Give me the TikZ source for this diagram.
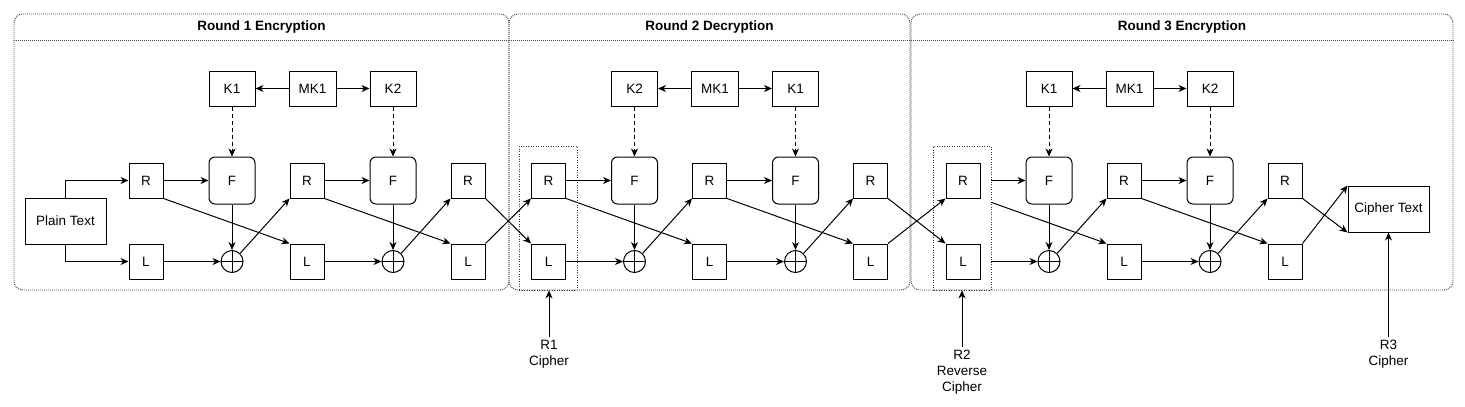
\documentclass[tikz,border=0pt]{standalone}
\usepackage{fontspec}
\setmainfont{Liberation Sans}
\usetikzlibrary{arrows.meta,calc}
\newcommand\feistelround[4]{%
\begin{scope}[xshift=#2pt]
\node[kbox] (#1K1) at (232,88.5) {#3};
\node[kbox, minimum width=47pt] (#1MK) at (312.5,88.5) {MK1};
\node[kbox] (#1K2) at (393,88.5) {#4};
\node[fbox] (#1F1) at (232,180.5) {F};
\node[fbox] (#1F2) at (393,180.5) {F};
\node[hbox] (#1Ra) at (146,180.5) {R};
\node[hbox] (#1La) at (146,261.5) {L};
\node[hbox] (#1Rb) at (307,180.5) {R};
\node[hbox] (#1Lb) at (307,261.5) {L};
\node[hbox] (#1Rc) at (468,180.5) {R};
\node[hbox] (#1Lc) at (468,261.5) {L};
\node[xor] (#1X1) at (232,261.5) {};
\node[xor] (#1X2) at (393,261.5) {};
\end{scope}
\draw[arr] (#1MK) -- (#1K1);
\draw[arr] (#1MK) -- (#1K2);
\draw[darr] (#1K1) -- (#1F1);
\draw[darr] (#1K2) -- (#1F2);
\draw[arr] (#1F1) -- (#1X1);
\draw[arr] (#1F2) -- (#1X2);
\draw[arr] (#1X1.north east) -- (#1Rb.south west);
\draw[arr] (#1Rb) -- (#1F2);
\draw[arr] (#1Rb.south east) -- (#1Lc.north west);
\draw[arr] (#1Lb) -- (#1X2);
\draw[arr] (#1X2.north east) -- (#1Rc.south west);
}
\begin{document}
\begin{tikzpicture}[x=1pt,y=-1pt,
  every node/.style={font=\fontsize{13.5}{16}\selectfont},
  base/.style={draw, line width=1pt, inner sep=0pt},
  hbox/.style={base, minimum width=34pt, minimum height=35pt},
  kbox/.style={base, minimum width=46pt, minimum height=35pt},
  fbox/.style={base, rounded corners=6pt, minimum width=46pt, minimum height=47pt},
  tbox/.style={base, minimum width=81pt, minimum height=46pt},
  xor/.style={draw, line width=1pt, circle, minimum size=22pt, inner sep=0pt,
    path picture={\draw[line width=1pt] (path picture bounding box.north) -- (path picture bounding box.south) (path picture bounding box.west) -- (path picture bounding box.east);}},
  arr/.style={line width=1pt, -{Stealth[length=8pt,width=7pt,inset=2.5pt]}},
  darr/.style={arr, dash pattern=on 4pt off 3pt},
  cont/.style={draw=black!70, line width=0.9pt, dash pattern=on 1pt off 1pt, rounded corners=9pt, minimum height=276pt, inner sep=0pt},
  contline/.style={draw=black!70, line width=0.9pt, dash pattern=on 1pt off 1pt},
  grp/.style={draw=black!80, line width=0.8pt, dash pattern=on 1pt off 1.5pt, minimum height=144pt, minimum width=58pt, inner sep=0pt},
  title/.style={font=\fontsize{13.5}{16}\selectfont\bfseries},
  lbl/.style={align=center, inner sep=3pt},
]
\useasboundingbox (0,0) rectangle (1465,407);
% containers
\node[cont, minimum width=495pt] (C1) at (261.5,152) {};
\node[cont, minimum width=401pt] (C2) at (709.5,152) {};
\node[cont, minimum width=542pt] (C3) at (1182,152) {};
\coordinate (hy) at (0,40);
\draw[contline] (C1.west |- hy) -- (C1.east |- hy);
\draw[contline] (C2.west |- hy) -- (C2.east |- hy);
\draw[contline] (C3.west |- hy) -- (C3.east |- hy);
\node[title] (T1) at (261.5,27) {Round 1 Encryption};
\node[title] (T2) at (709.5,27) {Round 2 Decryption};
\node[title] (T3) at (1182,27) {Round 3 Encryption};
% group boxes
\node[grp] (G2) at (548,218) {};
\node[grp, minimum width=57.5pt] (G3) at (962.25,218) {};
% rounds
\feistelround{a}{0}{K1}{K2}
\feistelround{b}{402.5}{K2}{K1}
\feistelround{c}{817}{K1}{K2}
% plain / cipher text
\node[tbox] (PT) at (65.5,221) {Plain Text};
\node[tbox] (CT) at (1388.5,209) {Cipher Text};
\draw[arr] (PT.north) |- (aRa.west);
\draw[arr] (PT.south) |- (aLa.west);
% first stages of rounds 1 and 2
\draw[arr] (aRa) -- (aF1);
\draw[arr] (aLa) -- (aX1);
\draw[arr] (aRa.south east) -- (aLb.north west);
\draw[arr] (bRa) -- (bF1);
\draw[arr] (bLa) -- (bX1);
\draw[arr] (bRa.south east) -- (bLb.north west);
% first stage of round 3 (from group box edge)
\draw[arr] (G3.east |- cRa) -- (cF1);
\draw[arr] (G3.east |- cLa) -- (cX1);
\draw[arr, shorten <=11.7pt] (cRa.south east) -- (cLb.north west);
% crossings between rounds
\draw[arr] (aRc.south east) -- (bLa.north west);
\draw[arr] (aLc.north east) -- (bRa.south west);
\draw[arr] (bRc.south east) -- (cLa.north west);
\draw[arr] (bLc.north east) -- (cRa.south west);
\draw[arr] (cRc.south east) -- (CT.south west);
\draw[arr] (cLc.north east) -- (CT.north west);
% bottom labels
\node[lbl] (L1) at (549,354) {R1\\Cipher};
\node[lbl] (L2) at (962,372) {R2\\Reverse\\Cipher};
\node[lbl] (L3) at (1388.5,354) {R3\\Cipher};
\draw[arr] (L1.north) -- (L1.north |- G2.south);
\draw[arr] (L2.north) -- (L2.north |- G3.south);
\draw[arr] (L3.north) -- (CT.south);
\end{tikzpicture}
\end{document}
